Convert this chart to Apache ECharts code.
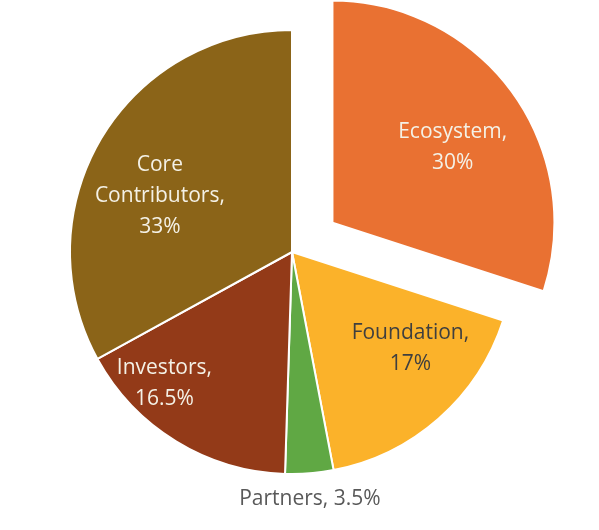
<!DOCTYPE html>
<html>
<head>
<meta charset="utf-8">
<script src="https://cdn.jsdelivr.net/npm/echarts@6/dist/echarts.min.js"></script>
<style>html,body{margin:0;padding:0;background:#fff}#c{width:599px;height:530px}</style>
</head>
<body>
<div id="c"></div>
<script>
const categories = ['Ecosystem', 'Foundation', 'Partners', 'Investors', 'Core\nContributors'];
const values = [30, 17, 3.5, 16.5, 33];
const valueLabels = ['30%', '17%', '3.5%', '16.5%', '33%'];

const colors = ['#E97132', '#FBB22A', '#60A844', '#933A18', '#8B6418'];
const labelOffsets = [[28, -8], [43, 11], [9, 133], [-68, 34], [-34, 2]];
const labelColors = ['#F4F1E6', '#3F3F3F', '#595959', '#F4F1E6', '#F4F1E6'];

const chart = echarts.init(document.getElementById('c'), null, {renderer: 'canvas'});
const data = categories.map((name, i) => {
  const lbl = {
    offset: labelOffsets[i],
    color: labelColors[i],
    formatter: name + ',' + (i === 2 ? ' ' : '\n') + valueLabels[i]
  };
  return {
    name: name,
    value: values[i],
    selected: i === 0,
    itemStyle: {color: colors[i]},
    label: lbl,
    select: {itemStyle: {color: colors[i]}, label: lbl}
  };
});
chart.setOption({
  animation: false,
  series: [{
    type: 'pie',
    center: [292, 252],
    radius: [0, 222],
    startAngle: 90,
    clockwise: true,
    selectedMode: 'single',
    selectedOffset: 50,
    avoidLabelOverlap: false,
    itemStyle: {borderColor: '#ffffff', borderWidth: 2},
    label: {
      show: true,
      position: 'inside',
      fontFamily: 'Open Sans',
      fontSize: 21,
      lineHeight: 31,
      align: 'center'
    },
    labelLine: {show: false},
    emphasis: {disabled: true},
    data: data
  }]
});
</script>
</body>
</html>
